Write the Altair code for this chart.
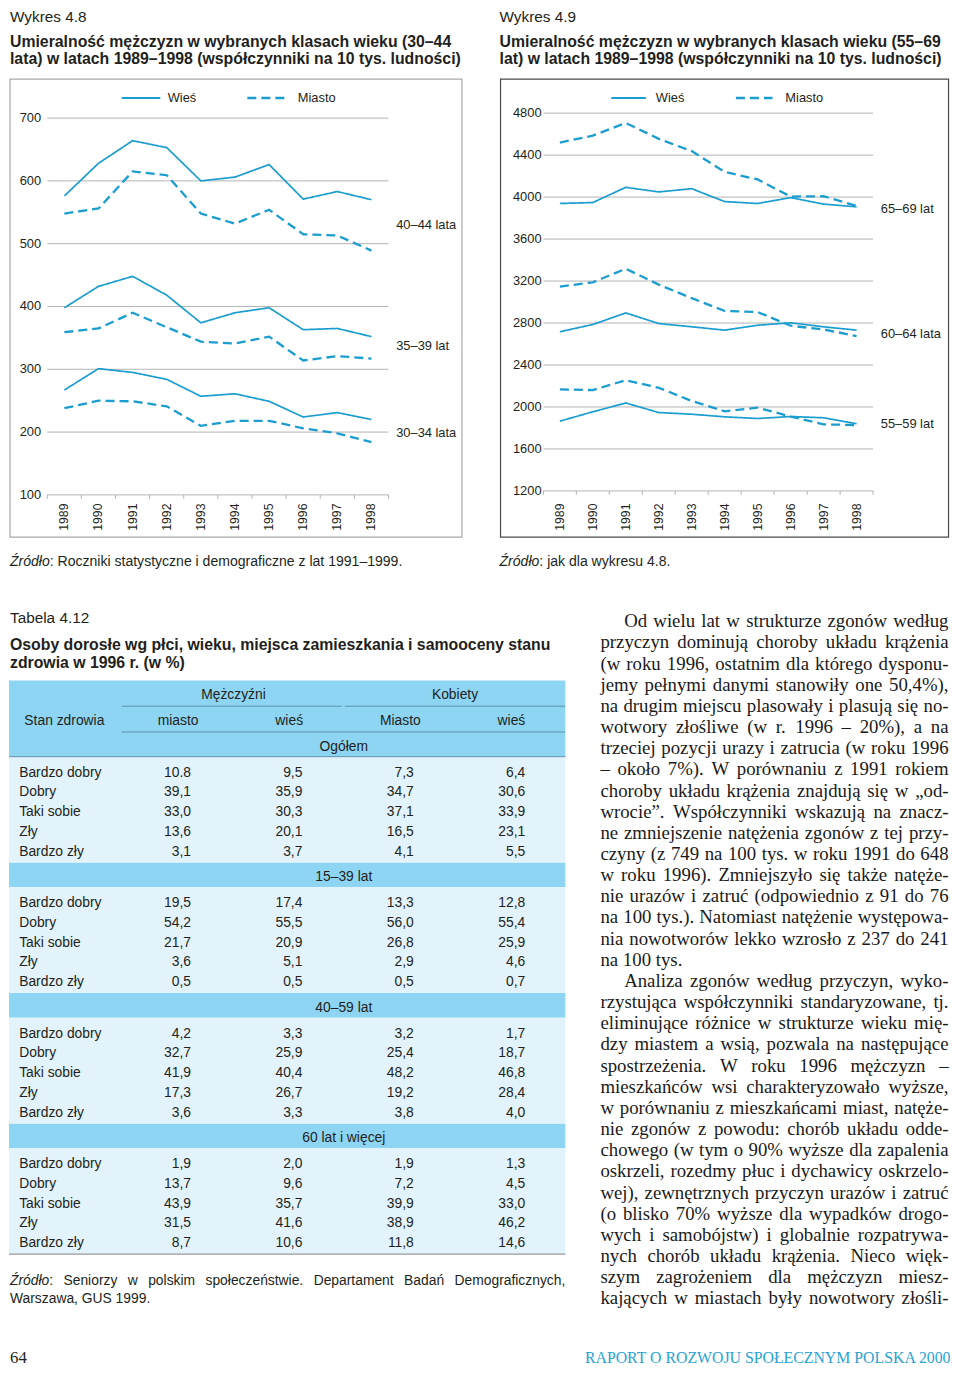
import altair as alt
import pandas as pd

# ---------------- data ----------------
years = [1989, 1990, 1991, 1992, 1993, 1994, 1995, 1996, 1997, 1998]

# Wykres 4.8 (per 10k), rural (Wieś) and urban (Miasto)
w30_34 = [267, 301, 295, 284, 257, 261, 249, 224, 231, 220]
m30_34 = [238, 250, 249, 241, 210, 218, 218, 206, 198, 184]
w35_39 = [398, 432, 448, 418, 374, 390, 398, 363, 365, 352]
m35_39 = [359, 365, 390, 367, 344, 341, 352, 314, 321, 317]
w40_44 = [576, 628, 664, 653, 600, 606, 626, 571, 583, 570]
m40_44 = [548, 556, 615, 609, 548, 532, 554, 515, 513, 489]

# Wykres 4.9
w55_59 = [1865, 1954, 2038, 1947, 1931, 1906, 1890, 1909, 1897, 1840]
m55_59 = [2167, 2161, 2255, 2183, 2057, 1959, 1994, 1909, 1834, 1828]
w60_64 = [2717, 2786, 2896, 2795, 2764, 2732, 2779, 2802, 2764, 2732]
m60_64 = [3147, 3188, 3317, 3166, 3037, 2915, 2905, 2774, 2739, 2676]
w65_69 = [3939, 3948, 4093, 4049, 4080, 3957, 3939, 3995, 3933, 3907]
m65_69 = [4520, 4586, 4706, 4555, 4438, 4240, 4168, 4005, 4008, 3917]

grid1 = [100, 200, 300, 400, 500, 600, 700]
grid2 = [1200, 1600, 2000, 2400, 2800, 3200, 3600, 4000, 4400, 4800]

# Tabela 4.12
health = ["Bardzo dobry", "Dobry", "Taki sobie", "Zły", "Bardzo zły"]
sections = ["Ogółem", "15–39 lat", "40–59 lat", "60 lat i więcej"]
col_heads = ["miasto", "wieś", "Miasto", "wieś"]
men_city = ["10.8", "39,1", "33,0", "13,6", "3,1", "19,5", "54,2", "21,7", "3,6", "0,5",
            "4,2", "32,7", "41,9", "17,3", "3,6", "1,9", "13,7", "43,9", "31,5", "8,7"]
men_rural = ["9,5", "35,9", "30,3", "20,1", "3,7", "17,4", "55,5", "20,9", "5,1", "0,5",
             "3,3", "25,9", "40,4", "26,7", "3,3", "2,0", "9,6", "35,7", "41,6", "10,6"]
women_city = ["7,3", "34,7", "37,1", "16,5", "4,1", "13,3", "56,0", "26,8", "2,9", "0,5",
              "3,2", "25,4", "48,2", "19,2", "3,8", "1,9", "7,2", "39,9", "38,9", "11,8"]
women_rural = ["6,4", "30,6", "33,9", "23,1", "5,5", "12,8", "55,4", "25,9", "4,6", "0,7",
               "1,7", "18,7", "46,8", "28,4", "4,0", "1,3", "4,5", "33,0", "46,2", "14,6"]

para_lines = [
    "Od wielu lat w strukturze zgonów według",
    "przyczyn dominują choroby układu krążenia",
    "(w roku 1996, ostatnim dla którego dysponu-",
    "jemy pełnymi danymi stanowiły one 50,4%),",
    "na drugim miejscu plasowały i plasują się no-",
    "wotwory złośliwe (w r. 1996 – 20%), a na",
    "trzeciej pozycji urazy i zatrucia (w roku 1996",
    "– około 7%). W porównaniu z 1991 rokiem",
    "choroby układu krążenia znajdują się w „od-",
    "wrocie”. Współczynniki wskazują na znacz-",
    "ne zmniejszenie natężenia zgonów z tej przy-",
    "czyny (z 749 na 100 tys. w roku 1991 do 648",
    "w roku 1996). Zmniejszyło się także natęże-",
    "nie urazów i zatruć (odpowiednio z 91 do 76",
    "na 100 tys.). Natomiast natężenie występowa-",
    "nia nowotworów lekko wzrosło z 237 do 241",
    "na 100 tys.",
    "Analiza zgonów według przyczyn, wyko-",
    "rzystująca współczynniki standaryzowane, tj.",
    "eliminujące różnice w strukturze wieku mię-",
    "dzy miastem a wsią, pozwala na następujące",
    "spostrzeżenia. W roku 1996 mężczyzn –",
    "mieszkańców wsi charakteryzowało wyższe,",
    "w porównaniu z mieszkańcami miast, natęże-",
    "nie zgonów z powodu: chorób układu odde-",
    "chowego (w tym o 90% wyższe dla zapalenia",
    "oskrzeli, rozedmy płuc i dychawicy oskrzelo-",
    "wej), zewnętrznych przyczyn urazów i zatruć",
    "(o blisko 70% wyższe dla wypadków drogo-",
    "wych i samobójstw) i globalnie rozpatrywa-",
    "nych chorób układu krążenia. Nieco więk-",
    "szym zagrożeniem dla mężczyzn miesz-",
    "kających w miastach były nowotwory złośli-",
]
indent_lines = [0, 17]
last_lines = [16]

# ---------------- layout helpers ----------------
S = 0.989


def X(v):
    return round((v - 2) * S, 2)


def Y(v):
    return round((v - 1) * S, 2)


def F(v):
    return round(v * S, 2)


SANS = "Liberation Sans, Arial, Helvetica, sans-serif"
SERIF = "Liberation Serif, Times New Roman, serif"
INK = "#231f20"
BLUE = "#1b9dd0"
GRID = "#b4b4b4"

TIMES = {}
for k, v in zip("abcdefghijklmnopqrstuvwxyz",
                [444, 500, 444, 500, 444, 333, 500, 500, 278, 278, 500, 278, 778, 500, 500, 500, 500, 333, 389,
                 278, 500, 500, 722, 500, 500, 444]):
    TIMES[k] = v
for k, v in zip("ABCDEFGHIJKLMNOPQRSTUVWXYZ",
                [722, 667, 667, 722, 611, 556, 722, 722, 333, 389, 722, 611, 889, 722, 722, 556, 722, 667, 556,
                 611, 722, 722, 944, 722, 722, 611]):
    TIMES[k] = v
TIMES.update({"ą": 444, "ć": 444, "ę": 444, "ł": 278, "ń": 500, "ó": 500, "ś": 389, "ź": 444, "ż": 444,
              "Ł": 611, "Ś": 556, "Ż": 611, "Ź": 611, " ": 250, ",": 250, ".": 250, ":": 278, ";": 278,
              "(": 333, ")": 333, "-": 333, "–": 500, "%": 833, "„": 444, "”": 444})
ARIAL = {}
for k, v in zip("abcdefghijklmnopqrstuvwxyz",
                [556, 556, 500, 556, 556, 278, 556, 556, 222, 222, 500, 222, 833, 556, 556, 556, 556, 333, 500,
                 278, 556, 500, 722, 500, 500, 500]):
    ARIAL[k] = v
for k, v in zip("ABCDEFGHIJKLMNOPQRSTUVWXYZ",
                [667, 667, 722, 722, 667, 611, 778, 722, 278, 500, 667, 556, 833, 722, 778, 667, 778, 722, 667,
                 611, 722, 667, 944, 667, 667, 611]):
    ARIAL[k] = v
ARIAL.update({"ą": 556, "ć": 500, "ę": 556, "ł": 222, "ń": 556, "ó": 556, "ś": 500, "ź": 500, "ż": 500,
              "Ź": 611, " ": 278, ",": 278, ".": 278, ":": 278, "(": 333, ")": 333, "–": 556, "%": 889})


def width(s, table, fs, default=556):
    return sum(table.get(ch, default) for ch in s) / 1000.0 * fs


def texts(rows, **props):
    df = pd.DataFrame({"px": [X(r[0]) for r in rows], "py": [Y(r[1]) for r in rows],
                       "t": [r[2] for r in rows]})
    base = dict(baseline="middle", color=INK, font=SANS)
    base.update(props)
    return alt.Chart(df).mark_text(**base).encode(
        x=alt.X("px:Q", scale=None, axis=None),
        y=alt.Y("py:Q", scale=None, axis=None),
        text="t:N")


one = pd.DataFrame({"a": [0]})
layers = []


def panel(series, ydom, ybot, ytop, c0, c1, g0, g1, grid, lab_r, box, box_color, labels, lab_x, leg):
    xs = alt.Scale(type="point", domain=years, range=[X(c0), X(c1)], padding=0)
    ys = alt.Scale(domain=ydom, range=[Y(ybot), Y(ytop)], nice=False, zero=False)
    out = []
    out.append(alt.Chart(one).mark_rect(filled=False, stroke=box_color, strokeWidth=1.2).encode(
        x=alt.value(X(box[0])), x2=alt.value(X(box[1])), y=alt.value(Y(box[2])), y2=alt.value(Y(box[3]))))
    gdf = pd.DataFrame({"v": grid})
    out.append(alt.Chart(gdf).mark_rule(color=GRID, strokeWidth=1).encode(
        y=alt.Y("v:Q", scale=ys, axis=None), x=alt.value(X(g0)), x2=alt.value(X(g1))))
    out.append(alt.Chart(gdf).mark_text(align="right", baseline="middle", font=SANS, fontSize=F(13),
                                        color=INK).encode(
        y=alt.Y("v:Q", scale=ys, axis=None), text=alt.Text("v:Q", format="d"), x=alt.value(X(lab_r))))
    tdf = pd.DataFrame({"k": list(range(11))})
    out.append(alt.Chart(tdf).mark_rule(color=GRID, strokeWidth=1).encode(
        x=alt.X("k:Q", scale=alt.Scale(domain=[0, 10], range=[X(g0), X(g1)]), axis=None),
        y=alt.value(Y(ybot)), y2=alt.value(Y(ybot + 4))))
    ydf = pd.DataFrame({"year": years})
    out.append(alt.Chart(ydf).mark_text(angle=270, align="right", baseline="middle", font=SANS,
                                        fontSize=F(12.4), color=INK).encode(
        x=alt.X("year:O", scale=xs, axis=None), text="year:O", y=alt.value(Y(502))))
    rows = []
    for grp, (wv, mv) in series.items():
        for yr, v in zip(years, wv):
            rows.append({"grp": grp, "place": "Wieś", "year": yr, "v": v})
        for yr, v in zip(years, mv):
            rows.append({"grp": grp, "place": "Miasto", "year": yr, "v": v})
    ldf = pd.DataFrame(rows)
    out.append(alt.Chart(ldf).mark_line(color=BLUE).encode(
        x=alt.X("year:O", scale=xs, axis=None),
        y=alt.Y("v:Q", scale=ys, axis=None),
        detail="grp:N",
        strokeDash=alt.StrokeDash("place:N", scale=alt.Scale(domain=["Wieś", "Miasto"],
                                                             range=[[1, 0], [9, 5]]), legend=None),
        strokeWidth=alt.StrokeWidth("place:N", scale=alt.Scale(domain=["Wieś", "Miasto"], range=[1.7, 2.3]),
                                    legend=None)))
    labdf = pd.DataFrame({"t": [l[0] for l in labels], "v": [l[1] for l in labels]})
    out.append(alt.Chart(labdf).mark_text(align="left", baseline="middle", font=SANS, fontSize=F(13),
                                          color=INK).encode(
        y=alt.Y("v:Q", scale=ys, axis=None), text="t:N", x=alt.value(X(lab_x))))
    # legend
    out.append(alt.Chart(one).mark_rule(color=BLUE, strokeWidth=2).encode(
        x=alt.value(X(leg[0])), x2=alt.value(X(leg[1])), y=alt.value(Y(92))))
    out.append(alt.Chart(one).mark_rule(color=BLUE, strokeWidth=2.3, strokeDash=[9, 5]).encode(
        x=alt.value(X(leg[3])), x2=alt.value(X(leg[4])), y=alt.value(Y(92))))
    out.append(texts([(leg[2], 92, "Wieś"), (leg[5], 92, "Miasto")], fontSize=F(13), align="left"))
    return out


layers += panel({"30–34": (w30_34, m30_34), "35–39": (w35_39, m35_39), "40–44": (w40_44, m40_44)},
                [100, 700], 493.3, 112.3, 59, 369.5, 41.7, 386.7, grid1, 35.5,
                (4, 461, 73, 536), "#a9a9a9",
                [("40–44 lata", 530), ("35–39 lat", 337), ("30–34 lata", 198)], 394.5,
                (117, 156, 163.5, 244, 282, 295))
layers += panel({"55–59": (w55_59, m55_59), "60–64": (w60_64, m60_64), "65–69": (w65_69, m65_69)},
                [1200, 4800], 489.3, 107.3, 560, 860, 543.3, 876.7, grid2, 541.5,
                (500, 953, 73, 536), "#4a4a4a",
                [("65–69 lat", 3889), ("60–64 lata", 2695), ("55–59 lat", 1837)], 884.5,
                (612, 647, 657, 738, 775, 788))

# chart headings and sources
layers.append(texts([(4, 10, "Wykres 4.8"), (499, 10, "Wykres 4.9"), (4, 618, "Tabela 4.12")],
                    fontSize=F(15.5), align="left"))
layers.append(texts([
    (4, 35, "Umieralność mężczyzn w wybranych klasach wieku (30–44"),
    (4, 53, "lata) w latach 1989–1998 (współczynniki na 10 tys. ludności)"),
    (499, 35, "Umieralność mężczyzn w wybranych klasach wieku (55–69"),
    (499, 53, "lat) w latach 1989–1998 (współczynniki na 10 tys. ludności)"),
    (4, 645, "Osoby dorosłe wg płci, wieku, miejsca zamieszkania i samooceny stanu"),
    (4, 663, "zdrowia w 1996 r. (w %)"),
], fontSize=F(16), fontWeight="bold", align="left"))
src_fs = 14.2
zw = width("Źródło", ARIAL, src_fs)
layers.append(texts([(4, 561, "Źródło"), (499, 561, "Źródło")], fontSize=F(src_fs), fontStyle="italic",
                    align="left"))
layers.append(texts([(4 + zw, 561, ": Roczniki statystyczne i demograficzne z lat 1991–1999."),
                     (499 + zw, 561, ": jak dla wykresu 4.8.")], fontSize=F(src_fs), align="left"))

# ---------------- table ----------------
TB_L, TB_R = 3, 565.5
HEAD = "#8dd5f3"
LIGHT = "#e2f3fb"
tys = alt.Scale(domain=[0, 19.8], range=[Y(774), Y(1170)], nice=False, zero=False)
bands = [{"a": -4.65, "b": -0.8}] + [{"a": s * 6.6 - 2.05, "b": s * 6.6 - 0.8} for s in range(1, 4)]
lights = [{"a": s * 6.6 - 0.8, "b": s * 6.6 + 4.55} for s in range(4)]
for rows_, col in ((bands, HEAD), (lights, LIGHT)):
    layers.append(alt.Chart(pd.DataFrame(rows_)).mark_rect(color=col).encode(
        y=alt.Y("a:Q", scale=tys, axis=None), y2="b:Q",
        x=alt.value(X(TB_L)), x2=alt.value(X(TB_R))))
hl = [(117, 339.5, 707), (342.5, TB_R, 707), (117, TB_R, 733), (TB_L, TB_R, 758)]
for x0, x1, yy in hl:
    layers.append(alt.Chart(one).mark_rule(color="#5f95ad", strokeWidth=1).encode(
        x=alt.value(X(x0)), x2=alt.value(X(x1)), y=alt.value(Y(yy))))
layers.append(alt.Chart(one).mark_rule(color="#9a9a9a", strokeWidth=1.2).encode(
    x=alt.value(X(TB_L)), x2=alt.value(X(TB_R)), y=alt.value(Y(1261))))

layers.append(texts([(230, 696, "Mężczyźni"), (454, 696, "Kobiety"), (59, 722, "Stan zdrowia")],
                    fontSize=F(14), align="center"))
chdf = pd.DataFrame({"c": [0, 1, 2, 3], "t": col_heads})
layers.append(alt.Chart(chdf).mark_text(align="center", baseline="middle", font=SANS, fontSize=F(14),
                                        color=INK).encode(
    x=alt.X("c:Q", scale=alt.Scale(domain=[0, 3], range=[X(174), X(511)]), axis=None),
    y=alt.value(Y(722)), text="t:N"))
secdf = pd.DataFrame({"slot": [s * 6.6 - 1.3 for s in range(4)], "t": sections})
layers.append(alt.Chart(secdf).mark_text(align="center", baseline="middle", font=SANS, fontSize=F(14),
                                         color=INK).encode(
    y=alt.Y("slot:Q", scale=tys, axis=None), x=alt.value(X(341.5)), text="t:N"))
cells, rlabs = [], []
for s in range(4):
    for i in range(5):
        idx = s * 5 + i
        slot = s * 6.6 + i
        rlabs.append({"slot": slot, "t": health[i]})
        for c, arr in enumerate((men_city, men_rural, women_city, women_rural)):
            cells.append({"slot": slot, "c": c, "t": arr[idx]})
layers.append(alt.Chart(pd.DataFrame(rlabs)).mark_text(align="left", baseline="middle", font=SANS,
                                                       fontSize=F(14), color=INK).encode(
    y=alt.Y("slot:Q", scale=tys, axis=None), x=alt.value(X(13.3)), text="t:N"))
layers.append(alt.Chart(pd.DataFrame(cells)).mark_text(align="right", baseline="middle", font=SANS,
                                                       fontSize=F(14), color=INK).encode(
    y=alt.Y("slot:Q", scale=tys, axis=None),
    x=alt.X("c:Q", scale=alt.Scale(domain=[0, 3], range=[X(187), X(525)]), axis=None),
    text="t:N"))

# table source, justified first line
tfs = 14
words = "Źródło: Seniorzy w polskim społeczeństwie. Departament Badań Demograficznych,".split(" ")
wsum = sum(width(w, ARIAL, tfs) for w in words)
gap = (TB_R - 4 - wsum) / (len(words) - 1)
pos = 4
src_rows = []
for w in words:
    if w.startswith("Źródło"):
        layers.append(texts([(pos, 1288, "Źródło")], fontSize=F(tfs), fontStyle="italic", align="left"))
        src_rows.append((pos + width("Źródło", ARIAL, tfs), 1288, ":"))
    else:
        src_rows.append((pos, 1288, w))
    pos += width(w, ARIAL, tfs) + gap
src_rows.append((4, 1306, "Warszawa, GUS 1999."))
layers.append(texts(src_rows, fontSize=F(tfs), align="left"))

# ---------------- body text (justified) ----------------
PFS = 19.0
P_L, P_R, P_IND = 601, 953, 625
prow = []
for i, line in enumerate(para_lines):
    yy = 621 + 21.4 * i
    x0 = P_IND if i in indent_lines else P_L
    ws = line.split(" ")
    wsum = sum(width(w, TIMES, PFS, 500) for w in ws)
    if i in last_lines or len(ws) == 1:
        g = 0.25 * PFS
    else:
        g = max((P_R - x0 - wsum) / (len(ws) - 1), 0.15 * PFS)
    p = x0
    for w in ws:
        prow.append((p, yy, w))
        p += width(w, TIMES, PFS, 500) + g
layers.append(texts(prow, font=SERIF, fontSize=F(PFS), align="left", color="#1a1a1a"))

# footer
layers.append(texts([(4, 1366, "64")], font=SERIF, fontSize=F(17), align="left"))
layers.append(texts([(955, 1366, "RAPORT O ROZWOJU SPOŁECZNYM POLSKA 2000")], font=SERIF,
                    fontSize=F(16), align="right", color="#29a3d4"))

chart = alt.layer(*layers).resolve_scale(
    x="independent", y="independent", strokeDash="independent", strokeWidth="independent"
).properties(
    width=944, height=1358, padding=0, autosize=alt.AutoSizeParams(type="none"), background="white"
).configure_view(stroke=None)

chart.save("out.html", embed_options={"renderer": "svg", "actions": False})
